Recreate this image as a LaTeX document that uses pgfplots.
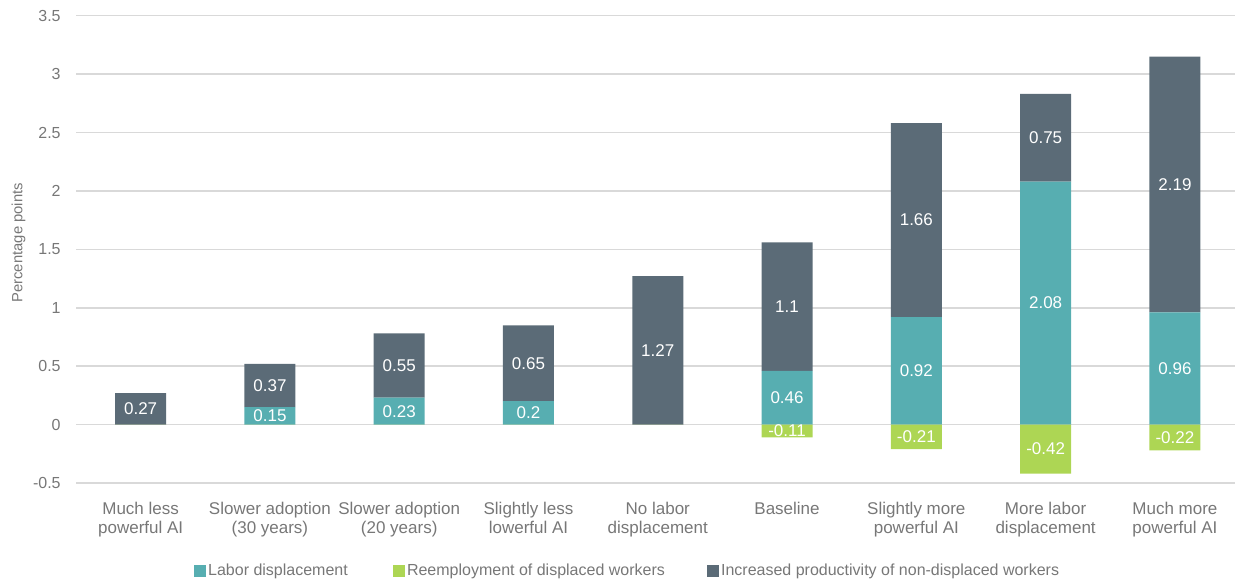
\documentclass[border=0pt]{standalone}
\usepackage{fontspec}
\setmainfont{Liberation Sans}
\usepackage{pgfplots}
\pgfplotsset{compat=1.18}
\usepackage{pgfplotstable}

\definecolor{labcol}{HTML}{57AEB1}
\definecolor{reecol}{HTML}{ADD654}
\definecolor{procol}{HTML}{5B6B77}
\definecolor{gridcol}{HTML}{D9D9D9}
\definecolor{txtcol}{HTML}{777777}

\newcommand\catfont{\fontsize{8.5}{9.3}\selectfont}
\newcommand\valfont{\fontsize{8.5}{10}\selectfont}
\newcommand\legfont{\fontsize{8}{10}\selectfont}
\newcommand\tickfont{\fontsize{8}{10}\selectfont}
\newcommand\labfont{\fontsize{7.4}{9}\selectfont}

% Contribution to growth by scenario (percentage points)
\pgfplotstableread{
idx labor reemp prod
0 0    0     0.27
1 0.15 0     0.37
2 0.23 0     0.55
3 0.2  0     0.65
4 0    0     1.27
5 0.46 -0.11 1.1
6 0.92 -0.21 1.66
7 2.08 -0.42 0.75
8 0.96 -0.22 2.19
}\scen

\pgfplotsset{
  plotbox/.style={
    scale only axis, width=579.5pt, height=233.65pt,
    at={(38pt,50.5pt)}, anchor=south west,
    xmin=-0.5, xmax=8.465, ymin=-0.5, ymax=3.5, clip=false,
  },
}

\begin{document}
\begin{tikzpicture}
\begin{axis}[
  plotbox,
  ybar stacked, bar width=25.5pt,
  axis line style={draw=none}, major tick length=0pt,
  xtick={0,1,2,3,4,5,6,7,8},
  xticklabels={{Much less\\powerful AI},{Slower adoption\\(30 years)},{Slower adoption\\(20 years)},{Slightly less\\lowerful AI},{No labor\\displacement},{Baseline},{Slightly more\\powerful AI},{More labor\\displacement},{Much more\\powerful AI}},
  xticklabel style={align=center, font=\catfont, text=txtcol, inner sep=0pt, anchor=north, yshift=-9.6pt},
  ytick={-0.5,0,0.5,1,1.5,2,2.5,3,3.5},
  yticklabels={-0.5,0,0.5,1,1.5,2,2.5,3,3.5},
  yticklabel style={font=\tickfont, text=txtcol, inner sep=0pt, anchor=east, xshift=-7.5pt},
  ymajorgrids, grid style={gridcol, line width=0.75pt},
  ylabel={Percentage points},
  every axis y label/.style={at={(axis description cs:-0.0463,0.514)}, rotate=90, anchor=base, font=\labfont, text=txtcol},
  legend columns=3,
  legend style={at={(axis description cs:0.1018,-0.189)}, anchor=west,
    draw=none, fill=none, inner sep=0pt, outer sep=0pt,
    font=\legfont, text=txtcol, nodes={inner sep=0pt},
    /tikz/every odd column/.style={column sep=1.2pt},
    /tikz/column 2/.style={column sep=22.5pt},
    /tikz/column 4/.style={column sep=21pt}},
]
\addplot[fill=labcol, draw=none, forget plot] table[x=idx, y=labor]{\scen};
\addplot[fill=procol, draw=none, forget plot] table[x=idx, y=prod]{\scen};

\addlegendimage{legend image code/.code={\fill[labcol] (0pt,-2.75pt) rectangle (5.5pt,2.75pt);}}
\addlegendentry{Labor displacement}
\addlegendimage{legend image code/.code={\fill[reecol] (0pt,-2.75pt) rectangle (5.5pt,2.75pt);}}
\addlegendentry{Reemployment of displaced workers}
\addlegendimage{legend image code/.code={\fill[procol] (0pt,-2.75pt) rectangle (5.5pt,2.75pt);}}
\addlegendentry{Increased productivity of non-displaced workers}
\end{axis}

\begin{axis}[
  plotbox, hide axis,
  /pgf/number format/assume math mode=true,
  every node near coord/.append style={anchor=center, text=white, font=\valfont, inner sep=0pt},
]
% negative reemployment effect hangs below zero
\addplot[ybar, bar width=25.5pt, bar shift=0pt, fill=reecol, draw=none] table[x=idx, y=reemp]{\scen};

% value labels in the middle of each segment
\addplot[draw=none, mark=none, nodes near coords, point meta=explicit, restrict y to domain=0.001:10]
  table[x=idx, y expr=\thisrow{labor}/2, meta=labor]{\scen};
\addplot[draw=none, mark=none, nodes near coords, point meta=explicit, restrict y to domain=-10:-0.001]
  table[x=idx, y expr=\thisrow{reemp}/2, meta=reemp]{\scen};
\addplot[draw=none, mark=none, nodes near coords, point meta=explicit]
  table[x=idx, y expr=\thisrow{labor}+\thisrow{prod}/2, meta=prod]{\scen};
\end{axis}

\pgfresetboundingbox
\path[use as bounding box] (0,0) rectangle (617.5pt,292pt);
\end{tikzpicture}
\end{document}
